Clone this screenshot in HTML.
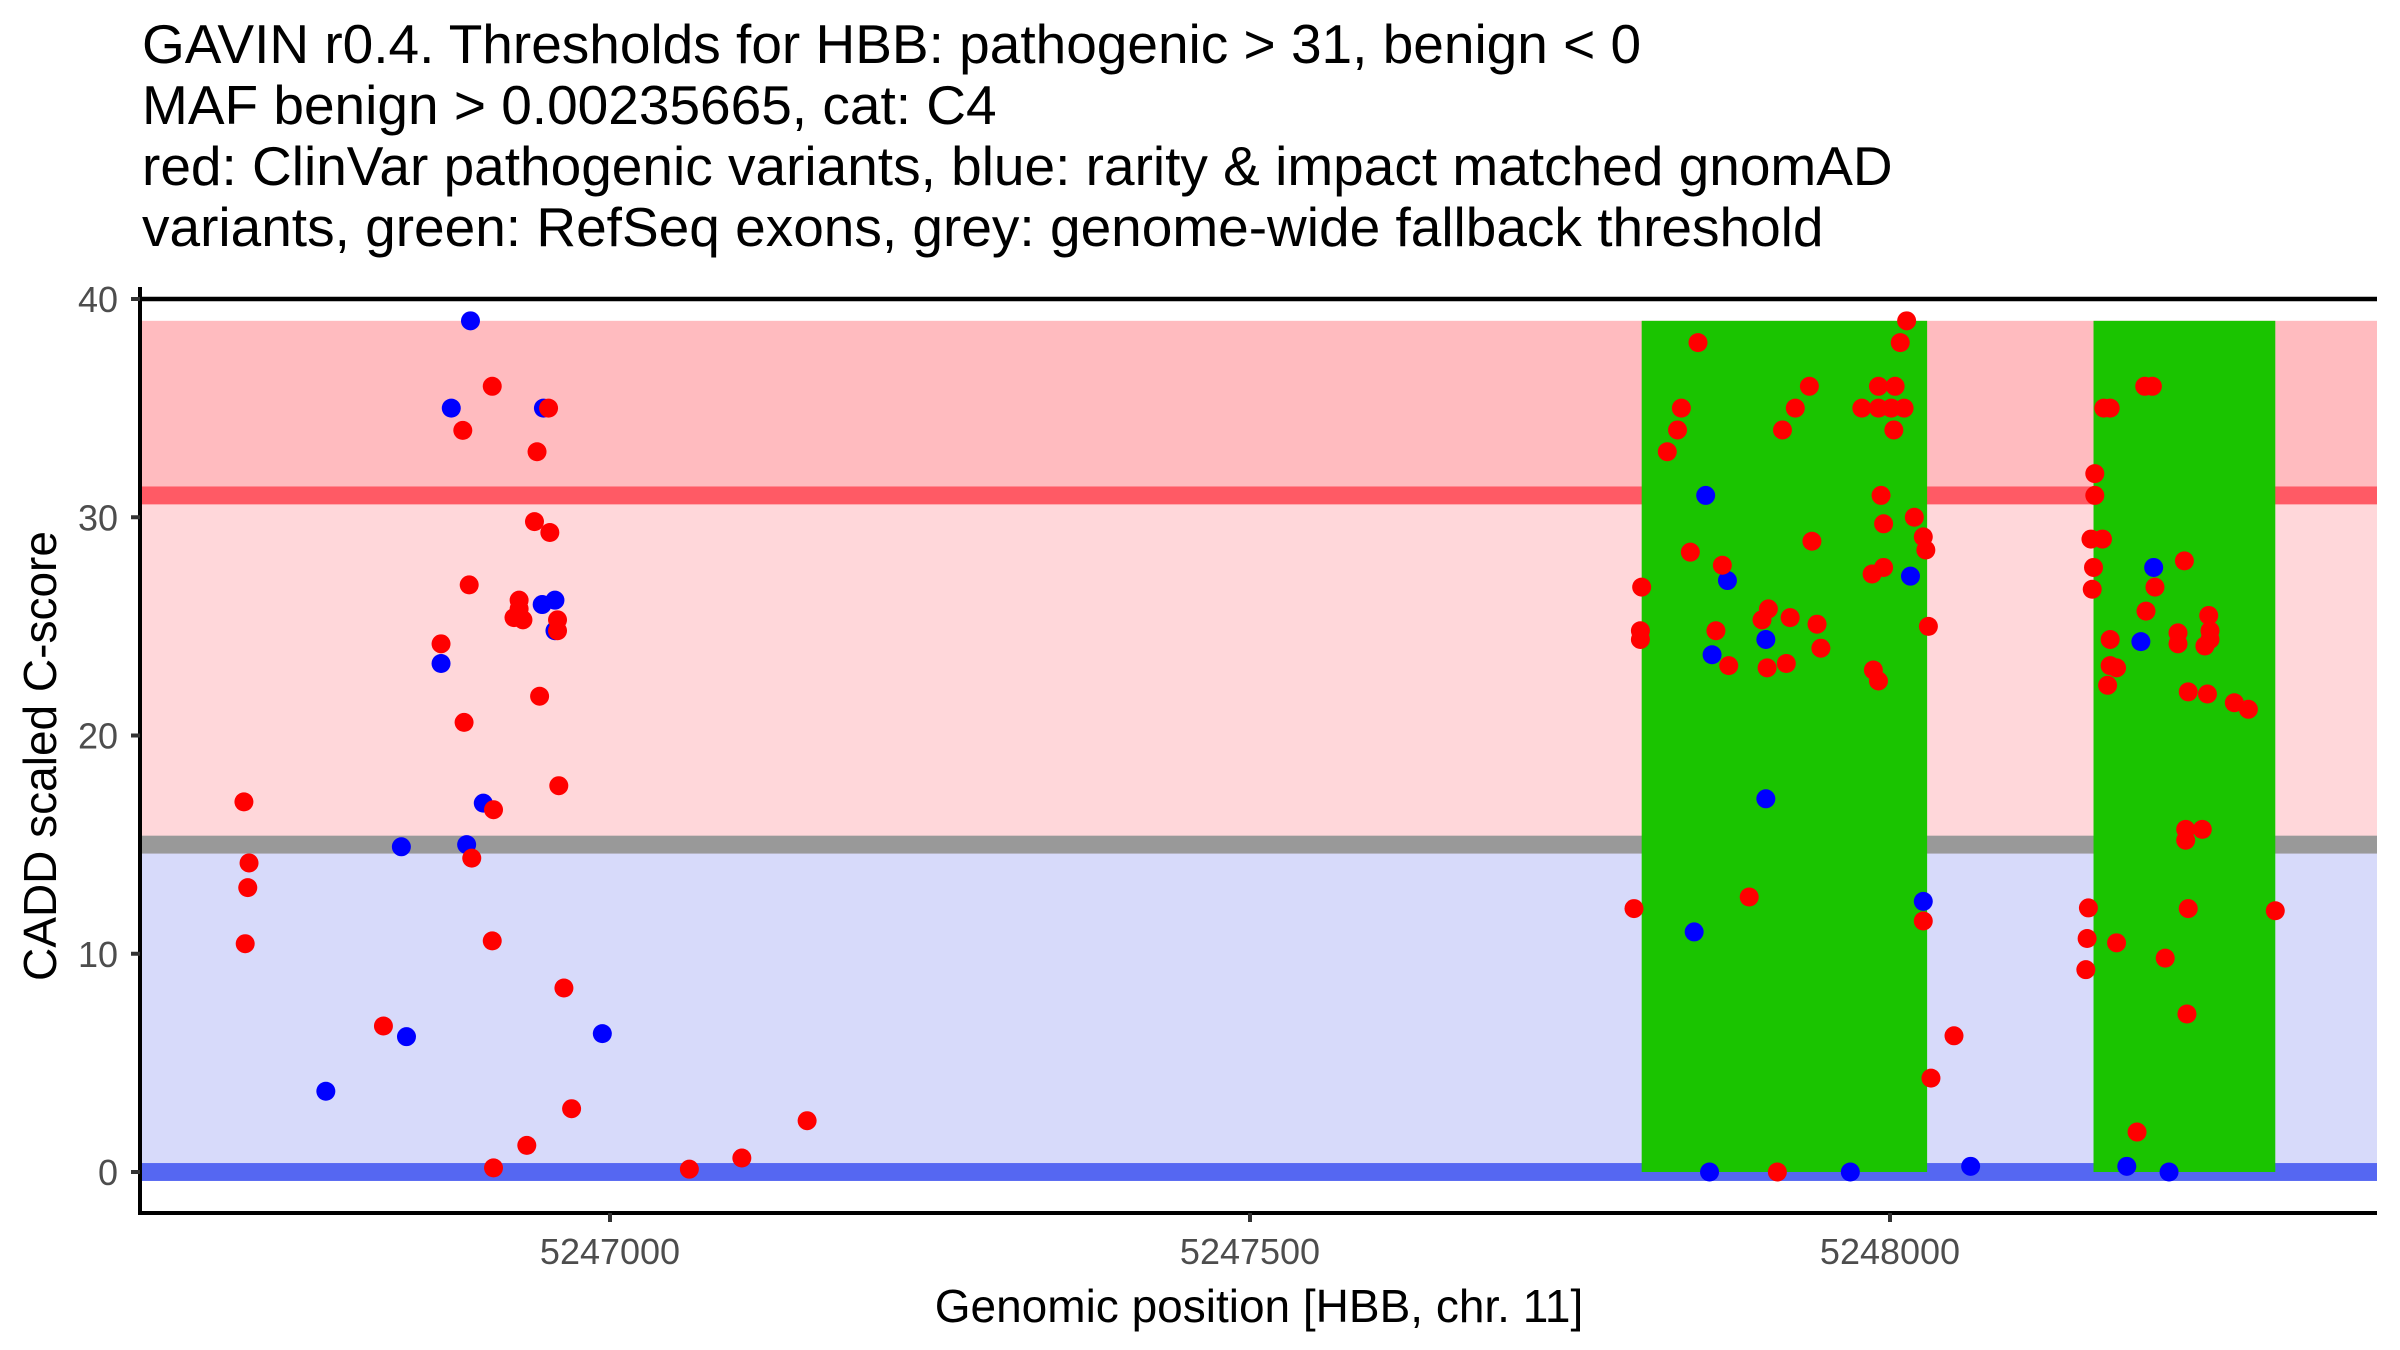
<!DOCTYPE html>
<html><head><meta charset="utf-8"><style>
html,body{margin:0;padding:0;background:#fff;}
svg{display:block;font-family:"Liberation Sans",Arial,sans-serif;}
</style></head><body>
<svg id="chart" width="2400" height="1350" viewBox="0 0 2400 1350" xmlns="http://www.w3.org/2000/svg">
<g font-size="55" fill="#000">
<text x="142" y="63">GAVIN r0.4. Thresholds for HBB: pathogenic &gt; 31, benign &lt; 0</text>
<text x="142" y="124">MAF benign &gt; 0.00235665, cat: C4</text>
<text x="142" y="185">red: ClinVar pathogenic variants, blue: rarity &amp; impact matched gnomAD</text>
<text x="142" y="246">variants, green: RefSeq exons, grey: genome-wide fallback threshold</text>
</g>
<g id="plot"></g>
<text x="1259" y="1322" font-size="46" text-anchor="middle">Genomic position [HBB, chr. 11]</text>
<text transform="translate(56,756) rotate(-90)" font-size="46" text-anchor="middle">CADD scaled C-score</text>
</svg>
<script>
const redX=[-286,-282,-283,-285,-177,-132,-115,-110,-114,-108,-92,-91,-92,-91,-57,-59,-47,-48,-71,-71,-75,-68,-55,-41,-41,-40,-36,-65,-30,62,103,154,
-150,-163,-166,-174,-194,-195,-195,-200,-156,-131,-136,-126,-100,-95,-78,-57,-54,-96,-81,-110,-88,-84,-74,-63,-61,-22,-9,4,-9,1,11,8,13,3,-7,-5,-14,-5,19,26,28,-13,-9,30,26,32,50,
160,160,157,166,159,158,167,172,199,205,230,207,200,172,172,177,170,225,225,249,250,250,246,233,248,269,280,231,244,231,155,154,153,177,215,233,232,301,193];
const redY=[16.96,14.16,13.03,10.46,6.69,24.2,33.98,26.9,20.6,14.38,36.0,16.6,10.59,0.19,33.0,29.8,29.3,35.0,26.2,25.8,25.4,25.3,21.8,25.3,24.8,17.7,8.43,1.22,2.9,0.13,0.64,2.35,
38.0,35.0,34.0,33.0,26.8,24.8,24.4,12.07,28.4,27.8,24.8,23.2,25.3,25.8,25.4,25.1,24.0,23.1,23.3,12.6,0.0,34.0,35.0,36.0,28.9,35.0,36.0,36.0,35.0,35.0,35.0,38.0,39.0,34.0,31.0,29.7,27.4,27.7,30.0,29.1,28.5,23.0,22.5,25.0,11.5,4.3,6.24,
32.0,31.0,29.0,29.0,27.7,26.7,35.0,35.0,36.0,36.0,28.0,26.8,25.7,24.4,23.2,23.1,22.3,24.7,24.2,25.5,24.8,24.4,24.1,22.0,21.9,21.5,21.2,15.7,15.7,15.2,12.1,10.7,9.27,10.5,9.8,12.07,7.24,11.97,1.83];
const blueX=[-222,-163,-159,-132,-124,-109,-112,-99,-53,-43,-52,-43,-6,
-144,-127,-139,-97,-97,-153,-141,-31,16,26,63,206,196,185,218];
const blueY=[3.7,14.9,6.2,23.3,35.0,39.0,15.0,16.9,26.0,26.2,35.0,24.8,6.34,
31.0,27.1,23.7,24.4,17.1,11.0,0.0,0.0,27.3,12.4,0.26,27.7,24.3,0.26,0.0];
const exonStart=[5247806,5248159];
const exonEnd=[5248029,5248301];
const xTicks=[5247000,5247500,5248000];
const yTicks=[0,10,20,30,40];
const thresholds=[31,15,0];

const NS="http://www.w3.org/2000/svg";
const L=140,R=2377,T=299,B=1213;
function sx(bp){return 610+(bp-5247000)*1.28;}
function sy(v){return 1172-v*21.825;}
function el(tag,attrs,parent){const e=document.createElementNS(NS,tag);for(const k in attrs)e.setAttribute(k,attrs[k]);parent.appendChild(e);return e;}
const g=document.getElementById('plot');

let r=el('rect',{x:L,y:sy(39),width:R-L,height:sy(31)-sy(39),fill:'#FFBBBF'},g);


r=el('rect',{x:L,y:sy(31),width:R-L,height:sy(15)-sy(31),fill:'#FFD7DA'},g);


r=el('rect',{x:L,y:sy(15),width:R-L,height:sy(0)-sy(15),fill:'#D7DAFA'},g);


const thrCol=['#FF5A65','#999999','#5567F2'];
const thrNames=['pathogenic-threshold-line','fallback-threshold-line','benign-threshold-line'];
thresholds.forEach((t,i)=>{
  const ln=el('rect',{x:L,y:sy(t+0.41),width:R-L,height:sy(t-0.41)-sy(t+0.41),fill:thrCol[i]},g);
  
  
});
exonStart.forEach((s,i)=>{
  const ex=el('rect',{x:sx(s),y:sy(39),width:sx(exonEnd[i])-sx(s),height:sy(0)-sy(39),fill:'#1AC400'},g);
  
  
});
blueX.forEach((x,i)=>{
  const c=el('circle',{cx:sx(5248000+x+(i<13?-1000:0)),cy:sy(blueY[i]),r:9.5,fill:'#0000FF'},g);
  
  
});
redX.forEach((x,i)=>{
  const base=i<32?5247000:5248000;
  const c=el('circle',{cx:sx(base+x),cy:sy(redY[i]),r:9.5,fill:'#FF0000'},g);
  
  
});
let a=el('line',{x1:L,y1:T,x2:R,y2:T,stroke:'#000','stroke-width':4.5},g);


a=el('line',{x1:L,y1:287,x2:L,y2:B+2,stroke:'#000','stroke-width':4},g);


a=el('line',{x1:L-2,y1:B,x2:R,y2:B,stroke:'#000','stroke-width':4},g);


yTicks.forEach(v=>{
  const tk=el('line',{x1:L-9,y1:sy(v),x2:L,y2:sy(v),stroke:'#333','stroke-width':4},g);
  
  
  const t=el('text',{x:L-22,y:sy(v)+13,'font-size':36,fill:'#4D4D4D','text-anchor':'end'},g);
  t.textContent=v;
  
  
});
xTicks.forEach(v=>{
  const tk=el('line',{x1:sx(v),y1:B,x2:sx(v),y2:B+9,stroke:'#333','stroke-width':4},g);
  
  
  const t=el('text',{x:sx(v),y:1264,'font-size':36,fill:'#4D4D4D','text-anchor':'middle'},g);
  t.textContent=v;
  
  
});
</script>
</body></html>
